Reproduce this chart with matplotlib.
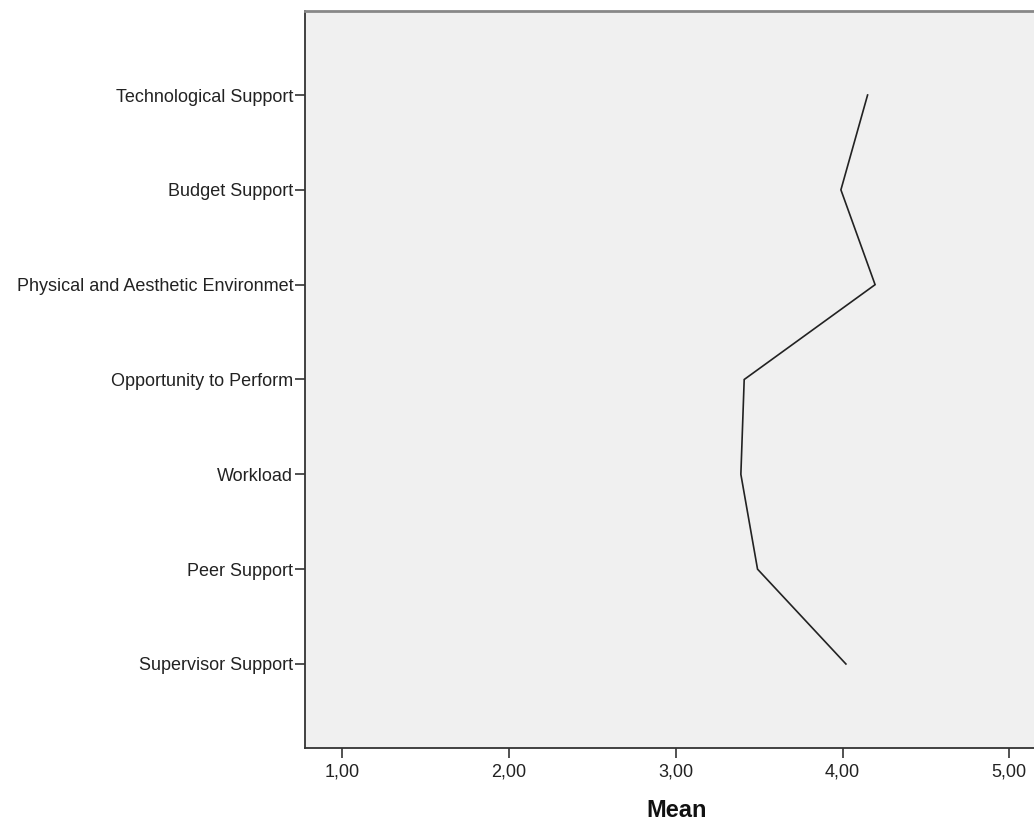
import matplotlib
matplotlib.use("Agg")
import matplotlib.pyplot as plt
from matplotlib.ticker import FuncFormatter

categories = ["Technological Support", "Budget Support", "Physical and Aesthetic Environmet",
              "Opportunity to Perform", "Workload", "Peer Support", "Supervisor Support"]
means = [4.15, 3.99, 4.195, 3.41, 3.39, 3.49, 4.02]
xticks = [1.0, 2.0, 3.0, 4.0, 5.0]

plt.rcParams['font.family'] = ['Liberation Sans', 'DejaVu Sans']

fig = plt.figure(figsize=(10.34, 8.23), dpi=100)
ax = fig.add_axes([304.5/1034, 75/823, (1049.5-304.5)/1034, 737/823])
ax.set_facecolor('#F0F0F0')

ypos = [len(categories) - i for i in range(len(categories))]
ax.plot(means, ypos, color='#222222', linewidth=1.2, solid_joinstyle='miter')

ax.set_xlim(0.773, 5.241)
ax.set_ylim(0.114, 7.886)
ax.set_yticks(ypos)
ax.set_yticklabels(categories)
ax.set_xticks(xticks)
ax.xaxis.set_major_formatter(FuncFormatter(lambda v, p: f"{v:.2f}".replace('.', ',')))
ax.tick_params(axis='both', direction='out', length=7.5, width=1.2, color='#333333',
               labelsize=13, labelcolor='#222222')
ax.tick_params(axis='y', pad=0.5)
ax.tick_params(axis='x', pad=4)

ax.spines['right'].set_visible(False)
ax.spines['top'].set_color('#888888')
ax.spines['top'].set_linewidth(2)
ax.spines['left'].set_color('#333333')
ax.spines['bottom'].set_color('#333333')
ax.spines['left'].set_linewidth(1.3)
ax.spines['bottom'].set_linewidth(1.3)

ax.set_xlabel('Mean', fontsize=17, fontweight='bold', color='#111111', labelpad=13)

fig.savefig('out.png', dpi=100)
